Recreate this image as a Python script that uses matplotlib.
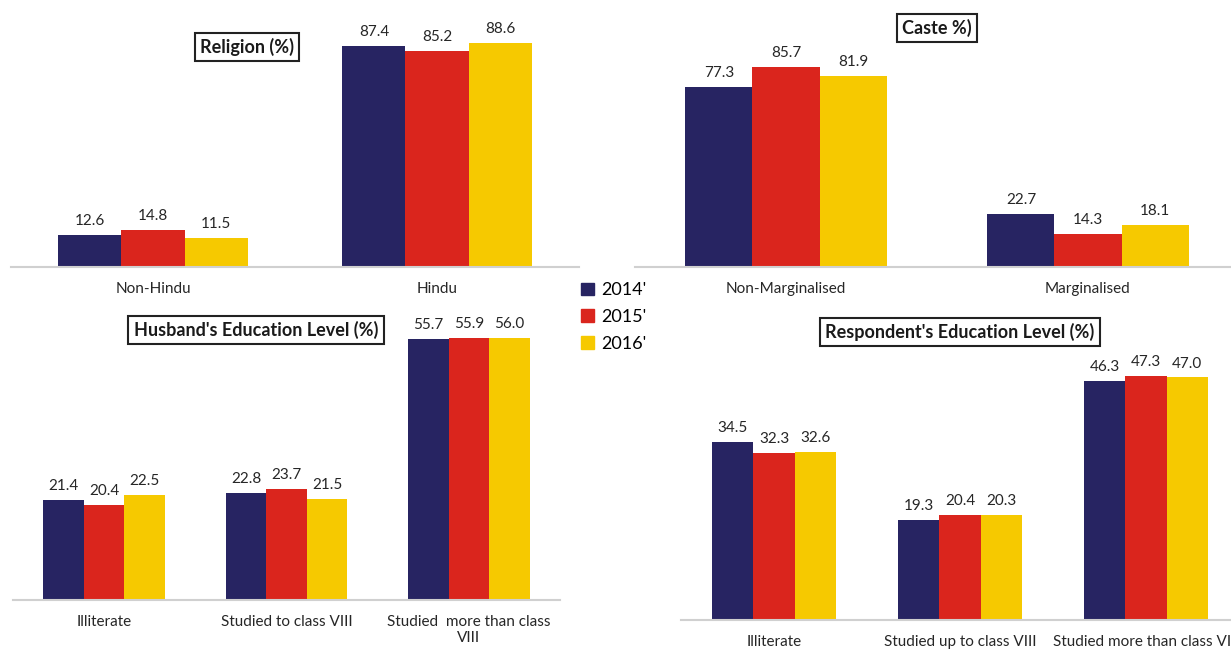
import matplotlib.pyplot as plt
import numpy as np
from matplotlib.patches import Patch

plt.rcParams['font.family'] = ['Lato', 'DejaVu Sans']

years = ["2014'", "2015'", "2016'"]
colors = ['#272462', '#da251d', '#f6c900']

religion_cats = ['Non-Hindu', 'Hindu']
religion_vals = [[12.6, 87.4], [14.8, 85.2], [11.5, 88.6]]

caste_cats = ['Non-Marginalised', 'Marginalised']
caste_vals = [[77.3, 22.7], [85.7, 14.3], [81.9, 18.1]]

husband_cats = ['Illiterate', 'Studied to class VIII', 'Studied  more than class\nVIII']
husband_vals = [[21.4, 22.8, 55.7], [20.4, 23.7, 55.9], [22.5, 21.5, 56.0]]

resp_cats = ['Illiterate', 'Studied up to class VIII', 'Studied more than class VIII']
resp_vals = [[34.5, 19.3, 46.3], [32.3, 20.4, 47.3], [32.6, 20.3, 47.0]]

W, H = 1231, 649
fig = plt.figure(figsize=(W / 100, H / 100), dpi=100)


def px_axes(x0, x1, y_top, y_base):
    # pixel box (from top-left) -> figure fraction
    return fig.add_axes([x0 / W, 1 - y_base / H, (x1 - x0) / W, (y_base - y_top) / H])


def draw(ax, cats, vals, ymax):
    x = np.arange(len(cats))
    bw = 0.222
    for i, series in enumerate(vals):
        pos = x + (i - 1) * bw
        ax.bar(pos, series, width=bw, color=colors[i], edgecolor='none')
        for p, v in zip(pos, series):
            ax.annotate(f"{v:.1f}", (p, v), xytext=(0, 5), textcoords='offset points',
                        ha='center', va='bottom', fontsize=11, color='#262626')
    ax.set_xlim(-0.5, len(cats) - 0.5)
    ax.set_ylim(0, ymax)
    ax.set_xticks(x)
    ax.set_xticklabels(cats, fontsize=11, color='#262626', linespacing=1.2)
    ax.tick_params(axis='x', length=0, pad=11)
    ax.set_yticks([])
    for s in ['top', 'right', 'left']:
        ax.spines[s].set_visible(False)
    ax.spines['bottom'].set_color('#d0d0d0')
    ax.spines['bottom'].set_linewidth(1.5)
    ax.patch.set_alpha(0)


ax1 = px_axes(11, 579, 0, 267)
draw(ax1, religion_cats, religion_vals, 267 / 2.532)

ax2 = px_axes(635, 1239, 0, 267)
draw(ax2, caste_cats, caste_vals, 267 / 2.33)

ax3 = px_axes(13, 560, 290, 600)
draw(ax3, husband_cats, husband_vals, 310 / 4.68)

ax4 = px_axes(681, 1239, 300, 620)
draw(ax4, resp_cats, resp_vals, 320 / 5.16)

box = dict(boxstyle='square,pad=0.3', facecolor='white', edgecolor='#222222', linewidth=1.5)
titles = [("Religion (%)", 247, 47), ("Caste %)", 937, 28),
          ("Husband's Education Level (%)", 256, 330),
          ("Respondent's Education Level (%)", 960, 332)]
for t, tx, ty in titles:
    fig.text(tx / W, 1 - ty / H, t, ha='center', va='center', fontsize=13,
             fontweight='bold', color='#1a1a1a', bbox=box)

handles = [Patch(color=c, label=y) for c, y in zip(colors, years)]
fig.legend(handles=handles, loc='upper left', bbox_to_anchor=(574 / W, 1 - 275 / H),
           frameon=False, fontsize=13, handlelength=0.7, handleheight=0.7,
           handletextpad=0.4, labelspacing=0.6, borderaxespad=0)

fig.savefig('out.png', dpi=100)
